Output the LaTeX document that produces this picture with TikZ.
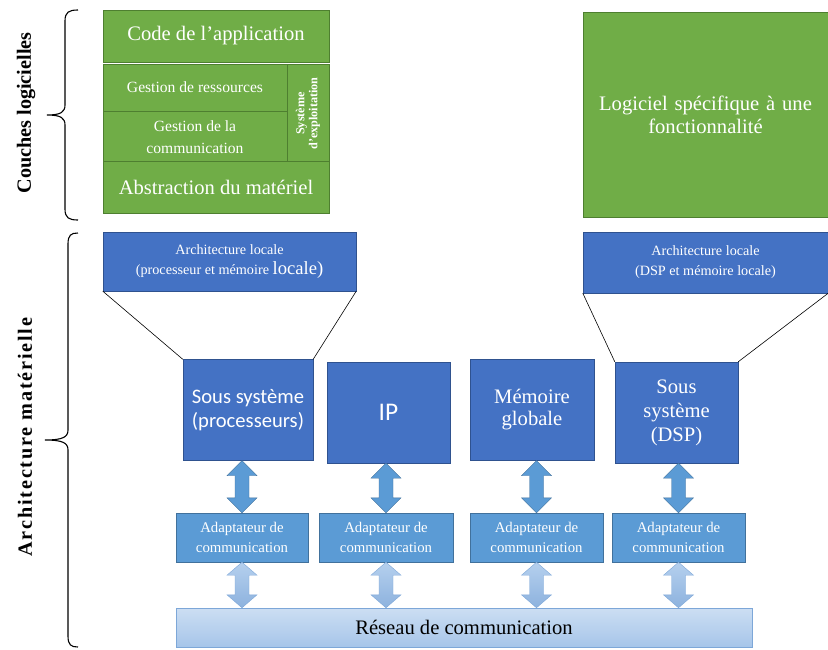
\documentclass[tikz,border=0pt]{standalone}
\usepackage{fontspec}
\setmainfont{Liberation Serif}
\newfontfamily\calibri{Carlito}
\usetikzlibrary{calc}

\definecolor{vertO}{HTML}{70AD47}
\definecolor{vertB}{HTML}{4E7F30}
\definecolor{bleuO}{HTML}{4472C4}
\definecolor{bleuB}{HTML}{2F528F}
\definecolor{bleuC}{HTML}{5B9BD5}
\definecolor{bleuCB}{HTML}{41719C}
\definecolor{bleuP1}{HTML}{CCDEF3}
\definecolor{bleuP2}{HTML}{A6C5E9}
\definecolor{bleuF1}{HTML}{B5D0EE}
\definecolor{bleuF2}{HTML}{8DB2DE}
\definecolor{bleuPB}{HTML}{7DA7D8}

\begin{document}
\begin{tikzpicture}[x=1pt, y=-1pt,
    vert/.style={fill=vertO, draw=vertB, text=white, align=center, inner sep=0pt},
    bleu/.style={fill=bleuO, draw=bleuB, text=white, align=center, inner sep=0pt},
    adapt/.style={fill=bleuC, draw=bleuCB, text=white, align=center, inner sep=0pt,
        minimum height=49, font=\fontsize{14.8}{20}\selectfont},
    flecheH/.style={fill=bleuC, draw=bleuCB},
    flecheB/.style={top color=bleuF1, bottom color=bleuF2, draw=bleuPB},
    accol/.style={line width=1.1pt},
    titre/.style={rotate=90, font=\bfseries\fontsize{20.2}{22}\selectfont}]
  \useasboundingbox (0,0) rectangle (828,649);

  % couches logicielles
  \node[vert, minimum width=226, minimum height=52, font=\fontsize{20.6}{23}\selectfont]
      (code) at (216,36) {Code de l'application};
  \node[vert, minimum width=184, minimum height=47, font=\fontsize{15.6}{21}\selectfont]
      (gres) at (195,87.5) {Gestion de ressources};
  \node[vert, minimum width=184, minimum height=52, font=\fontsize{15.6}{22}\selectfont]
      (gcom) at (195,137) {Gestion de la\\communication};
  \node[vert, minimum width=99, minimum height=42, rotate=90,
      font=\bfseries\fontsize{12.2}{13}\selectfont]
      (sysex) at (308,113.5) {Système\\d'exploitation};
  \node[vert, minimum width=226, minimum height=52, font=\fontsize{20.6}{23}\selectfont]
      (abst) at (216,187) {Abstraction du matériel};
  \node[vert, minimum width=245, minimum height=205, text width=235,
      font=\fontsize{20.6}{23}\selectfont]
      (logspe) at (705.5,114.5) {Logiciel spécifique à une\\fonctionnalité};

  % architecture materielle
  \node[bleu, minimum width=253, minimum height=59, font=\fontsize{14.2}{20}\selectfont]
      (loc1) at (229.5,261.5)
      {Architecture locale\\(processeur et mémoire {\fontsize{18.6}{20}\selectfont locale)}};
  \node[bleu, minimum width=245, minimum height=61, font=\fontsize{14.2}{20}\selectfont]
      (loc2) at (705.5,262.5) {Architecture locale\\(DSP et mémoire locale)};

  \node[bleu, minimum width=130, minimum height=101, font=\calibri\fontsize{20.6}{24}\selectfont]
      (ss) at (248,410) {Sous système\\(processeurs)};
  \node[bleu, minimum width=123, minimum height=101, font=\calibri\fontsize{25.4}{26}\selectfont]
      (ip) at (388.5,412.5) {IP};
  \node[bleu, minimum width=124, minimum height=101, font=\fontsize{20.6}{22}\selectfont]
      (mem) at (532,410) {Mémoire\\globale};
  \node[bleu, minimum width=123, minimum height=101, font=\fontsize{20.6}{24}\selectfont]
      (dsp) at (676.5,412.5) {Sous\\système\\(DSP)};

  \draw[semithick] (loc1.south west) -- (ss.north west);
  \draw[semithick] (loc1.south east) -- (ss.north east);
  \draw[semithick] (loc2.south west) -- (dsp.north west);
  \draw[semithick] (loc2.south east) -- (dsp.north east);

  \node[adapt, minimum width=132] (ad1) at (242,537.5) {Adaptateur de\\communication};
  \node[adapt, minimum width=134] (ad2) at (386,537.5) {Adaptateur de\\communication};
  \node[adapt, minimum width=133] (ad3) at (536.5,537.5) {Adaptateur de\\communication};
  \node[adapt, minimum width=133] (ad4) at (678.5,537.5) {Adaptateur de\\communication};

  \node[top color=bleuP1, bottom color=bleuP2, draw=bleuPB, minimum width=576,
      minimum height=39, inner sep=0pt, font=\fontsize{20.6}{23}\selectfont]
      (reseau) at (464,627.5) {Réseau de communication};

  % doubles fleches
  \foreach \b/\a in {ss/ad1, ip/ad2, mem/ad3, dsp/ad4}
    \draw[flecheH] let \p1=(\a.north), \p2=(\b.south) in
      (\x1,\y2) -- (\x1+15pt,\y2-15pt) -- (\x1+7pt,\y2-15pt) -- (\x1+7pt,\y1+15pt)
      -- (\x1+15pt,\y1+15pt) -- (\x1,\y1) -- (\x1-15pt,\y1+15pt) -- (\x1-7pt,\y1+15pt)
      -- (\x1-7pt,\y2-15pt) -- (\x1-15pt,\y2-15pt) -- cycle;
  \foreach \a in {ad1, ad2, ad3, ad4}
    \draw[flecheB] let \p1=(\a.south), \p2=(reseau.north) in
      (\x1,\y1) -- (\x1+15pt,\y1-13pt) -- (\x1+7pt,\y1-13pt) -- (\x1+7pt,\y2+13pt)
      -- (\x1+15pt,\y2+13pt) -- (\x1,\y2) -- (\x1-15pt,\y2+13pt) -- (\x1-7pt,\y2+13pt)
      -- (\x1-7pt,\y1-13pt) -- (\x1-15pt,\y1-13pt) -- cycle;

  % accolades
  \draw[accol] (78,10) .. controls (69,10) and (65,12) .. (65,21) -- (65,105)
      .. controls (65,112) and (61,115) .. (47,115) .. controls (61,115) and (65,118) .. (65,125)
      -- (65,209) .. controls (65,218) and (69,220) .. (78,220);
  \draw[accol] (78,233) .. controls (71,233) and (68,235) .. (68,244) -- (68,430)
      .. controls (68,437) and (63,440) .. (45,440) .. controls (63,440) and (68,443) .. (68,450)
      -- (68,636) .. controls (68,645) and (71,647) .. (78,647);
  \node[titre] (tlog) at (26,113) {Couches logicielles};
  \node[titre, font=\bfseries\fontsize{20.2}{22}\selectfont\addfontfeature{LetterSpace=9}]
      (tmat) at (25,437) {Architecture matérielle};
\end{tikzpicture}
\end{document}
